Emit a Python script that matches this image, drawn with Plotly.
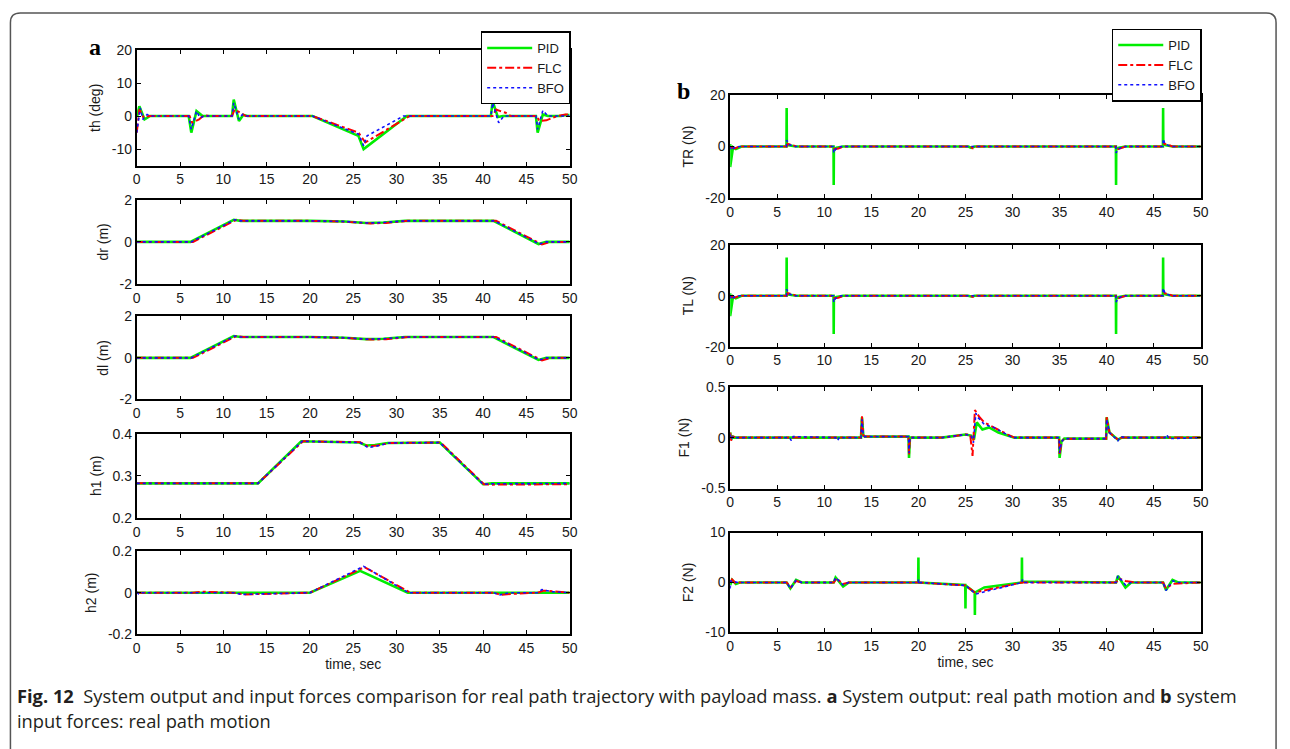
import plotly.graph_objects as go

# ---------------- data ----------------
# th (deg)
TH_PID_T = [0, 0.05, 0.3, 0.9, 1.5, 6.0, 6.3, 6.9, 7.6, 11.0, 11.2, 11.8, 12.3, 12.8, 20.3, 25.6, 26.2, 31.2, 40.9, 41.1, 41.7, 42.3, 46.1, 46.3, 46.9, 47.5, 49.0, 49.5, 50]
TH_PID_Y = [0, 0, 3.0, -1.0, 0, 0, -5.0, 1.5, 0, 0, 5.0, -1.5, 0.3, 0, 0, -6.0, -10.0, 0, 0, 4.5, -0.3, 0, 0, -5.0, 0.5, 0, 0, 0.3, 0.3]
TH_FLC_T = [0, 0.3, 0.8, 1.4, 6.1, 6.4, 7.2, 7.8, 8.4, 11.0, 11.3, 12.0, 12.6, 20.3, 25.6, 26.4, 31.5, 41.1, 41.5, 42.0, 42.6, 43.2, 46.2, 46.5, 47.3, 48.0, 48.6, 49.5, 50]
TH_FLC_Y = [-5.0, 2.0, -0.5, 0, 0, -2.0, -1.0, 0.3, 0, 0, 2.0, 1.0, 0, 0, -5.0, -8.0, 0, 0, 2.0, 1.5, 1.0, 0, 0, -1.5, -1.3, -0.5, 0, 0.5, 0.4]
TH_BFO_T = [0, 0.4, 0.7, 1.2, 1.6, 6.0, 6.3, 6.9, 7.3, 7.8, 11.0, 11.2, 11.8, 12.2, 12.7, 20.3, 25.6, 26.2, 26.6, 30.8, 40.9, 41.1, 41.8, 42.4, 46.1, 46.3, 46.9, 47.5, 50]
TH_BFO_Y = [-5.0, 2.5, -1.0, 0.5, 0, 0, -4.0, 1.5, -0.5, 0, 0, 4.0, -1.0, 0.5, 0, 0, -5.5, -9.0, -6.0, 0, 0, 4.0, -2.0, 0, 0, -4.0, 1.7, 0, 0]

# dr (m)
DR_PID_T = [0, 6.2, 11.2, 12.0, 20, 24, 26.5, 28.5, 31, 41.2, 46.4, 47.3, 50]
DR_PID_Y = [0, 0, 1.05, 1.0, 1.0, 0.97, 0.9, 0.92, 1.0, 1.0, -0.1, 0, 0]
DR_FLC_T = [0, 6.5, 11.5, 12.3, 20, 24, 27, 28.8, 31.3, 41.5, 46.8, 47.8, 50]
DR_FLC_Y = [0, 0, 1.05, 1.0, 1.0, 0.96, 0.88, 0.9, 1.0, 1.0, -0.12, 0, 0]
DR_BFO_T = [0, 6.3, 11.3, 12.0, 20, 24, 26.5, 28.5, 31, 41.3, 46.5, 47.3, 50]
DR_BFO_Y = [0, 0, 1.05, 1.0, 1.0, 0.97, 0.9, 0.92, 1.0, 1.0, -0.1, 0, 0]

# dl (m)
DL_PID_T = [0, 6.2, 11.2, 12.0, 20, 24, 26.5, 28.5, 31, 41.2, 46.4, 47.3, 50]
DL_PID_Y = [0, 0, 1.05, 1.0, 1.0, 0.97, 0.9, 0.92, 1.0, 1.0, -0.1, 0, 0]
DL_FLC_T = [0, 6.5, 11.5, 12.3, 20, 24, 27, 28.8, 31.3, 41.5, 46.8, 47.8, 50]
DL_FLC_Y = [0, 0, 1.05, 1.0, 1.0, 0.96, 0.88, 0.9, 1.0, 1.0, -0.12, 0, 0]
DL_BFO_T = [0, 6.3, 11.3, 12.0, 20, 24, 26.5, 28.5, 31, 41.3, 46.5, 47.3, 50]
DL_BFO_Y = [0, 0, 1.05, 1.0, 1.0, 0.97, 0.9, 0.92, 1.0, 1.0, -0.1, 0, 0]

# h1 (m)
H1_PID_T = [0, 14.0, 19.0, 21.5, 25.7, 26.5, 27.5, 29, 35, 40.0, 41, 50]
H1_PID_Y = [0.282, 0.282, 0.382, 0.381, 0.379, 0.372, 0.373, 0.378, 0.379, 0.28, 0.282, 0.282]
H1_FLC_T = [0, 14.0, 19.2, 21.5, 25.8, 26.7, 27.8, 29.2, 35.1, 40.1, 41, 50]
H1_FLC_Y = [0.282, 0.282, 0.382, 0.381, 0.38, 0.37, 0.372, 0.378, 0.379, 0.28, 0.279, 0.28]
H1_BFO_T = [0, 14.0, 19.1, 21.5, 25.8, 26.7, 27.6, 29.1, 35, 40.0, 41, 50]
H1_BFO_Y = [0.282, 0.282, 0.382, 0.381, 0.379, 0.367, 0.37, 0.378, 0.379, 0.28, 0.281, 0.282]

# h2 (m)
H2_PID_T = [0, 20, 25.8, 31.3, 50]
H2_PID_Y = [0, 0, 0.105, 0, 0]
H2_FLC_T = [0, 6.5, 7.5, 11.2, 12.5, 20, 26.3, 31.6, 41.3, 42, 43.5, 46.3, 47, 48.5, 50]
H2_FLC_Y = [0, 0, 0.005, 0, -0.008, 0, 0.123, 0, 0, -0.01, -0.005, 0, 0.01, 0.005, 0]
H2_BFO_T = [0, 0.2, 0.5, 11.3, 12, 20, 26.2, 31.4, 41.3, 41.8, 43, 46.3, 46.8, 48, 50]
H2_BFO_Y = [0.005, -0.005, 0, 0, -0.008, 0, 0.127, 0, 0, -0.012, 0, 0, 0.015, 0.005, 0]

# TR (N)
TR_PID_T = [0, 0, 0.3, 0.6, 1.2, 5.98, 6.0, 6.02, 6.2, 7.0, 10.98, 11.0, 11.02, 11.3, 12, 25.3, 25.6, 26.0, 40.98, 41.0, 41.02, 41.3, 42, 45.98, 46.0, 46.02, 46.3, 47, 50]
TR_PID_Y = [1, -8, -0.3, -1.0, 0, 0, 15, 1.0, 0.5, 0, 0, -15, -1.0, -0.5, 0, 0, -0.5, 0, 0, -15, -1.0, -0.5, 0, 0, 15, 1.0, 0.5, 0, 0]
TR_FLC_T = [0, 0.2, 0.5, 1.0, 6.0, 6.1, 6.5, 7.0, 11.0, 11.1, 11.5, 12.0, 25.5, 25.8, 26.2, 41.0, 41.1, 41.5, 42, 46.0, 46.1, 46.5, 47, 50]
TR_FLC_Y = [0, -0.5, -0.8, 0, 0, 1.0, 0.7, 0, 0, -1.0, -0.8, 0, 0, -0.7, 0, 0, -1.2, -0.6, 0, 0, 1.0, 0.7, 0, 0]
TR_BFO_T = [0, 0.1, 0.4, 1.0, 5.98, 6.0, 6.2, 6.8, 10.98, 11.0, 11.2, 11.8, 40.98, 41.0, 41.2, 41.8, 45.98, 46.0, 46.2, 46.8, 50]
TR_BFO_Y = [0, -1.5, -0.5, 0, 0, 2.5, 0.8, 0, 0, -2.5, -1.0, 0, 0, -2.5, -1.0, 0, 0, 3.0, 1.0, 0, 0]

# TL (N)
TL_PID_T = [0, 0, 0.3, 0.6, 1.2, 5.98, 6.0, 6.02, 6.2, 7.0, 10.98, 11.0, 11.02, 11.3, 12, 25.3, 25.6, 26.0, 40.98, 41.0, 41.02, 41.3, 42, 45.98, 46.0, 46.02, 46.3, 47, 50]
TL_PID_Y = [1, -8, -0.3, -1.0, 0, 0, 15, 1.0, 0.5, 0, 0, -15, -1.0, -0.5, 0, 0, -0.3, 0, 0, -15, -1.0, -0.5, 0, 0, 15, 1.0, 0.5, 0, 0]
TL_FLC_T = [0, 0.2, 0.5, 1.0, 6.0, 6.1, 6.5, 7.0, 11.0, 11.1, 11.5, 12.0, 25.5, 25.8, 26.2, 41.0, 41.1, 41.5, 42, 46.0, 46.1, 46.5, 47, 50]
TL_FLC_Y = [0, -0.5, -0.8, 0, 0, 1.0, 0.7, 0, 0, -1.0, -0.8, 0, 0, -0.5, 0, 0, -1.2, -0.6, 0, 0, 1.0, 0.7, 0, 0]
TL_BFO_T = [0, 0.1, 0.4, 1.0, 5.98, 6.0, 6.2, 6.8, 10.98, 11.0, 11.2, 11.8, 40.98, 41.0, 41.2, 41.8, 45.98, 46.0, 46.2, 46.8, 50]
TL_BFO_Y = [0, -1.5, -0.5, 0, 0, 2.5, 0.8, 0, 0, -2.5, -1.0, 0, 0, -2.5, -1.0, 0, 0, 3.0, 1.0, 0, 0]

# F1 (N)
F1_PID_T = [0, 0.1, 0.3, 0.6, 13.9, 14.0, 14.15, 14.3, 18.95, 19.0, 19.1, 22.5, 25.0, 25.6, 25.9, 26.2, 26.8, 27.5, 28.5, 29.5, 30.2, 34.95, 35.0, 35.2, 35.5, 39.95, 40.0, 40.3, 41.2, 41.6, 42, 50]
F1_PID_Y = [0.05, -0.02, 0.01, 0, 0, 0.2, 0.02, 0.01, 0.01, -0.2, 0, 0, 0.03, 0.02, -0.02, 0.15, 0.08, 0.1, 0.05, 0.02, 0, 0, -0.2, -0.04, -0.01, -0.01, 0.2, 0.05, -0.02, 0, 0, 0]
F1_FLC_T = [0, 0.1, 0.3, 0.6, 13.9, 14.0, 14.15, 14.3, 18.95, 19.0, 19.1, 22.5, 25.0, 25.5, 25.75, 26.0, 26.5, 27.0, 28.0, 29.0, 29.5, 30.2, 34.95, 35.0, 35.2, 35.5, 39.95, 40.0, 40.3, 41.2, 41.6, 42, 50]
F1_FLC_Y = [0.05, -0.03, 0.01, 0, 0, 0.21, 0.02, 0.01, 0.01, -0.17, 0, 0, 0.03, 0.03, -0.18, 0.27, 0.2, 0.15, 0.1, 0.05, 0.03, 0, 0, -0.17, -0.04, -0.01, -0.01, 0.2, 0.05, -0.02, 0, 0, 0]
F1_BFO_T = [0, 0.1, 0.3, 0.6, 6.3, 6.5, 6.7, 11.2, 11.4, 11.6, 13.9, 14.0, 14.15, 14.3, 18.95, 19.0, 19.1, 22.5, 25.0, 25.6, 25.85, 26.1, 26.3, 27.0, 28.0, 29.0, 30.0, 34.95, 35.0, 35.2, 35.5, 39.95, 40.0, 40.3, 41.2, 41.5, 42, 46.2, 46.4, 46.6, 50]
F1_BFO_Y = [0.03, -0.02, 0.01, 0, 0, -0.03, 0.01, 0, -0.03, 0, 0, 0.18, 0.02, 0.01, 0.01, -0.15, 0, 0, 0.03, 0.02, -0.05, 0.24, 0.2, 0.13, 0.1, 0.05, 0, 0, -0.15, -0.04, -0.01, -0.01, 0.18, 0.05, -0.03, 0.01, 0, 0, 0.03, -0.01, 0]

# F2 (N)
F2_PID_T = [0, 0.2, 0.6, 1.0, 6.0, 6.4, 7.0, 7.6, 11.0, 11.2, 12.0, 12.6, 19.98, 20.0, 20.02, 24.98, 25.0, 25.02, 25.98, 26.0, 26.02, 27.0, 30.98, 31.0, 31.02, 41.0, 41.2, 42.0, 42.6, 46.0, 46.3, 47.0, 47.6, 50]
F2_PID_Y = [-0.5, 0.5, -0.3, 0, 0, -1.2, 0.5, 0, 0, 1.0, -0.8, 0, 0, 5.0, 0, -0.5, -5.2, -0.6, -2.0, -6.5, -2.0, -1.0, 0, 5.0, 0.2, 0, 1.3, -1.0, 0, 0, -1.5, 0.5, 0, 0]
F2_FLC_T = [0, 0.2, 0.6, 1.0, 6.0, 6.4, 7.0, 7.6, 11.0, 11.3, 12.0, 12.6, 20.0, 25.0, 26.0, 26.5, 31.0, 41.0, 41.3, 42.0, 43.0, 46.0, 46.3, 47.0, 47.6, 50]
F2_FLC_Y = [0, 0.6, -0.2, 0, 0, -1.0, 0.3, 0, 0, 0.8, -0.3, 0, 0, -0.6, -2.0, -1.8, 0, 0, 0.8, 0.3, 0, 0, -1.2, -0.3, -0.2, 0]
F2_BFO_T = [0, 0.05, 0.3, 0.8, 6.0, 6.4, 7.0, 7.6, 11.0, 11.2, 12.0, 12.6, 19.98, 20.0, 20.1, 25.0, 26.1, 31.0, 31.05, 31.2, 41.0, 41.2, 42.0, 42.6, 46.0, 46.3, 47.0, 47.6, 50]
F2_BFO_Y = [-1.2, 0.3, 0.2, 0, 0, -1.2, 0.4, 0, 0, 1.0, -0.5, 0, 0, 0.6, 0, -0.6, -2.3, 0, 0.6, 0, 0, 1.3, -0.5, 0, 0, -1.6, 0.3, 0, 0]

X_TICKS = [0, 5, 10, 15, 20, 25, 30, 35, 40, 45, 50]
SERIES_NAMES = ["PID", "FLC", "BFO"]

# ---------------- panel definitions (positions in page pixels) ----------------
PANELS = [
    # label, data, y-range, y-ticks, column, (top px, bottom px)
    ("th (deg)", [(TH_PID_T, TH_PID_Y), (TH_FLC_T, TH_FLC_Y), (TH_BFO_T, TH_BFO_Y)], [-15, 20], [-10, 0, 10, 20], 0, (43, 161)),
    ("dr (m)", [(DR_PID_T, DR_PID_Y), (DR_FLC_T, DR_FLC_Y), (DR_BFO_T, DR_BFO_Y)], [-2, 2], [-2, 0, 2], 0, (196, 282)),
    ("dl (m)", [(DL_PID_T, DL_PID_Y), (DL_FLC_T, DL_FLC_Y), (DL_BFO_T, DL_BFO_Y)], [-2, 2], [-2, 0, 2], 0, (315, 400)),
    ("h1 (m)", [(H1_PID_T, H1_PID_Y), (H1_FLC_T, H1_FLC_Y), (H1_BFO_T, H1_BFO_Y)], [0.2, 0.4], [0.2, 0.3, 0.4], 0, (435, 521)),
    ("h2 (m)", [(H2_PID_T, H2_PID_Y), (H2_FLC_T, H2_FLC_Y), (H2_BFO_T, H2_BFO_Y)], [-0.2, 0.2], [-0.2, 0, 0.2], 0, (555, 640)),
    ("TR (N)", [(TR_PID_T, TR_PID_Y), (TR_FLC_T, TR_FLC_Y), (TR_BFO_T, TR_BFO_Y)], [-20, 20], [-20, 0, 20], 1, (89, 194)),
    ("TL (N)", [(TL_PID_T, TL_PID_Y), (TL_FLC_T, TL_FLC_Y), (TL_BFO_T, TL_BFO_Y)], [-20, 20], [-20, 0, 20], 1, (242, 346)),
    ("F1 (N)", [(F1_PID_T, F1_PID_Y), (F1_FLC_T, F1_FLC_Y), (F1_BFO_T, F1_BFO_Y)], [-0.5, 0.5], [-0.5, 0, 0.5], 1, (387, 491)),
    ("F2 (N)", [(F2_PID_T, F2_PID_Y), (F2_FLC_T, F2_FLC_Y), (F2_BFO_T, F2_BFO_Y)], [-10, 10], [-10, 0, 10], 1, (536, 638)),
]

W, H = 1290, 749


def px(x):
    return x / W


def py(y):
    return 1 - y / H


COL_X = [(134, 571), (733, 1208)]
STYLES = [
    dict(color="#00ee00", width=2.6, dash="solid"),
    dict(color="#ff0000", width=2.0, dash="dashdot"),
    dict(color="#1010ff", width=1.6, dash="dot"),
]
FONT = "Liberation Sans, Arial, sans-serif"

fig = go.Figure()
layout = dict(
    width=W, height=H,
    margin=dict(l=0, r=0, t=0, b=0),
    paper_bgcolor="white", plot_bgcolor="white",
    font=dict(family=FONT, size=14, color="#1a1a1a"),
    showlegend=True,
)

for i, (ylabel, series, yr, yt, col, (top, bot)) in enumerate(PANELS, start=1):
    x0, x1 = COL_X[col]
    xa = "xaxis" if i == 1 else f"xaxis{i}"
    ya = "yaxis" if i == 1 else f"yaxis{i}"
    xref = "x" if i == 1 else f"x{i}"
    yref = "y" if i == 1 else f"y{i}"
    first_in_col = (i == 1) or (i == 6)
    leg = "legend" if col == 0 else "legend2"
    for (t, y), name, st in zip(series, SERIES_NAMES, STYLES):
        fig.add_trace(go.Scatter(
            x=t, y=y, mode="lines", name=name,
            line=dict(color=st["color"], width=st["width"], dash=st["dash"]),
            xaxis=xref, yaxis=yref, showlegend=first_in_col, legend=leg,
            hoverinfo="skip",
        ))
    common = dict(showline=True, linecolor="black", linewidth=1.8, mirror="ticks",
                  ticks="inside", ticklen=4, tickwidth=1.2, tickcolor="black",
                  showgrid=False, zeroline=False,
                  tickfont=dict(family=FONT, size=14, color="#1a1a1a"))
    xaxis = dict(common, domain=[px(x0), px(x1)], anchor=yref, range=[0, 50],
                 tickvals=X_TICKS, ticktext=[str(v) for v in X_TICKS])
    if i in (5, 9):
        xaxis["title"] = dict(text="time, sec", font=dict(family=FONT, size=14), standoff=3)
    yaxis = dict(common, domain=[py(bot), py(top)], anchor=xref, range=yr,
                 tickvals=yt, ticktext=[f"{v:g}" for v in yt],
                 title=dict(text=ylabel, font=dict(family=FONT, size=14), standoff=8))
    layout[xa] = xaxis
    layout[ya] = yaxis

legend_style = dict(bgcolor="white", bordercolor="black", borderwidth=1.5,
                    font=dict(family=FONT, size=13, color="#1a1a1a"),
                    xanchor="right", yanchor="top", tracegroupgap=0, itemwidth=45)
layout["legend"] = dict(legend_style, x=px(572), y=py(24))
layout["legend2"] = dict(legend_style, x=px(1209), y=py(21))

# panel letters and caption
ann = [
    dict(text="<b>a</b>", x=px(92), y=py(40), xref="paper", yref="paper",
         showarrow=False, xanchor="center", yanchor="middle",
         font=dict(family="Liberation Serif, Times New Roman, serif", size=24, color="black")),
    dict(text="<b>b</b>", x=px(686), y=py(85), xref="paper", yref="paper",
         showarrow=False, xanchor="center", yanchor="middle",
         font=dict(family="Liberation Serif, Times New Roman, serif", size=24, color="black")),
    dict(text="<b>Fig. 12</b>  System output and input forces comparison for real path trajectory with payload mass. <b>a</b> System output: real path motion and <b>b</b> system",
         x=px(11), y=py(702), xref="paper", yref="paper", showarrow=False,
         xanchor="left", yanchor="middle",
         font=dict(family="Open Sans, sans-serif", size=18.3, color="#231f20")),
    dict(text="input forces: real path motion",
         x=px(11), y=py(728), xref="paper", yref="paper", showarrow=False,
         xanchor="left", yanchor="middle",
         font=dict(family="Open Sans, sans-serif", size=18.3, color="#231f20")),
]
layout["annotations"] = ann

# rounded outer frame
rx, ry = 10 / W, 10 / H
xl, xr, yt_, yb = px(6.5), px(1284), py(5), -0.02
path = (f"M {xl},{yb} L {xl},{yt_ - ry} Q {xl},{yt_} {xl + rx},{yt_} "
        f"L {xr - rx},{yt_} Q {xr},{yt_} {xr},{yt_ - ry} L {xr},{yb}")
layout["shapes"] = [dict(type="path", path=path, xref="paper", yref="paper",
                         line=dict(color="#555555", width=1.5))]

fig.update_layout(**layout)
fig.write_html("out.html", config={"displayModeBar": False},
               post_script="document.documentElement.style.margin='0';"
                           "document.body.style.margin='0';"
                           "document.body.style.overflow='hidden';")
